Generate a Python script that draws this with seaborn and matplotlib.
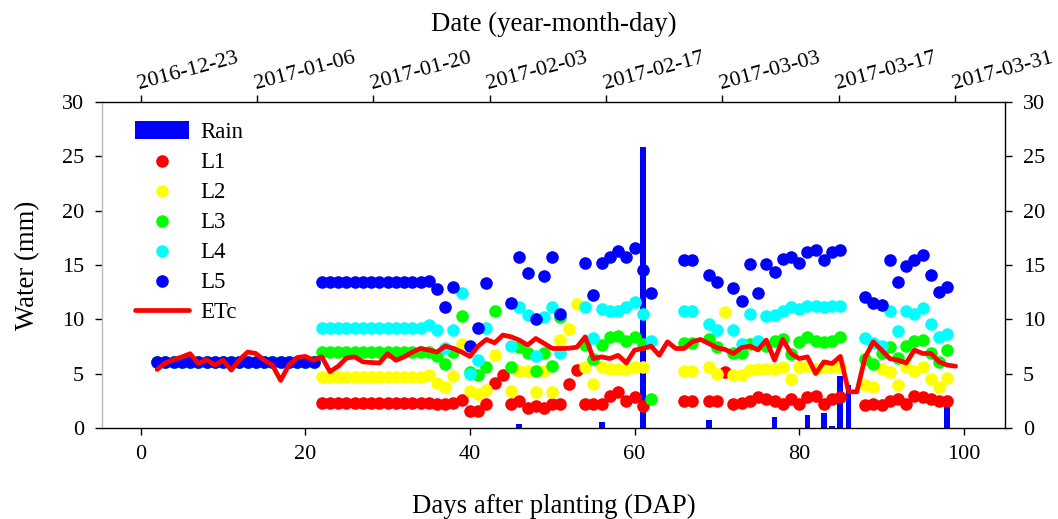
import numpy as np
import pandas as pd
import matplotlib
matplotlib.use("Agg")
import matplotlib.pyplot as plt
import seaborn as sns

nan = np.nan

# ---------------- data ----------------
days = list(range(2, 99))          # DAP for the soil layer observations
etc_days = list(range(2, 100))     # DAP for ETc

L1 = [6.1, 6.1, 6.1, 6.1, 6.1, 6.1, 6.1, 6.1, 6.1, 6.1, 6.1, 6.1, 6.1, 6.1, 6.1, 6.1, 6.1, 6.1, 6.1, 6.1,
      2.3, 2.3, 2.3, 2.3, 2.3, 2.3, 2.3, 2.3, 2.3, 2.3, 2.3, 2.3, 2.3, 2.3,
      2.2, 2.2, 2.35, 2.6, 1.6, 1.6, 2.2, 4.2, 4.85, 2.2, 2.5, 1.9, 2.05, 1.9, 2.2, 2.2, 4.05, 5.35,
      2.2, 2.2, 2.2, 2.95, 3.3, 2.5, 2.85, 2.05, nan, nan, nan, nan, 2.55, 2.55, nan, 2.55, 2.55, 5.15,
      2.2, 2.35, 2.55, 2.85, 2.7, 2.55, 2.2, 2.7, 2.2, 2.85, 3.0, 2.2, 2.7, 2.85, nan, nan,
      2.15, 2.2, 2.15, 2.55, 2.65, 2.2, 2.95, 2.85, 2.7, 2.55, 2.55]

L2 = [6.1, 6.1, 6.1, 6.1, 6.1, 6.1, 6.1, 6.1, 6.1, 6.1, 6.1, 6.1, 6.1, 6.1, 6.1, 6.1, 6.1, 6.1, 6.1, 6.1,
      4.7, 4.7, 4.7, 4.7, 4.7, 4.7, 4.7, 4.7, 4.7, 4.7, 4.7, 4.7, 4.7, 4.9,
      4.2, 3.75, 4.8, 7.7, 3.45, 3.15, 3.5, 6.75, nan, 3.45, 5.25, 5.25, 3.3, 5.25, 3.3, 8.1, 9.1, 11.45,
      5.65, 4.1, 5.6, 5.45, 5.45, 5.45, 5.65, 5.65, nan, nan, nan, nan, 5.25, 5.25, nan, 5.65, 4.95, 10.65,
      4.85, 4.85, 5.35, 5.45, 5.45, 5.45, 5.6, 4.5, 5.65, 5.75, 5.45, 5.65, 5.65, 5.65, nan, nan,
      4.0, 3.75, 5.45, 5.15, 4.0, 5.65, 5.25, 5.6, 4.5, 3.75, 4.65]

L3 = [6.1, 6.1, 6.1, 6.1, 6.1, 6.1, 6.1, 6.1, 6.1, 6.1, 6.1, 6.1, 6.1, 6.1, 6.1, 6.1, 6.1, 6.1, 6.1, 6.1,
      7.05, 7.05, 7.05, 7.05, 7.05, 7.05, 7.05, 7.05, 7.05, 7.05, 7.05, 7.05, 7.05, 7.0,
      6.65, 5.9, 7.0, 10.3, 5.15, 4.85, 5.65, 10.8, nan, 5.65, 7.5, 6.95, 5.25, 6.95, 5.75, 10.2, nan, nan,
      7.65, 6.35, 7.65, 8.35, 8.5, 8.05, 8.35, 7.75, 2.65, nan, nan, nan, 7.8, 7.8, nan, 8.2, 7.5, nan,
      6.95, 6.95, 7.75, 7.9, 7.55, 8.05, 8.2, 6.8, 7.9, 8.35, 8.05, 7.9, 8.05, 8.35, nan, nan,
      6.35, 5.9, 6.9, 7.5, 6.5, 7.6, 8.05, 8.1, 6.95, 6.05, 7.15]

L4 = [6.1, 6.1, 6.1, 6.1, 6.1, 6.1, 6.1, 6.1, 6.1, 6.1, 6.1, 6.1, 6.1, 6.1, 6.1, 6.1, 6.1, 6.1, 6.1, 6.1,
      9.25, 9.25, 9.25, 9.25, 9.25, 9.25, 9.25, 9.25, 9.25, 9.25, 9.25, 9.25, 9.25, 9.5,
      9.0, 7.4, 9.0, 12.4, 5.0, 6.3, 9.2, nan, nan, 7.6, 11.1, 10.4, 6.65, 10.2, 11.1, 6.95, nan, nan,
      11.1, 8.3, 10.95, 10.75, 10.75, 11.1, 11.6, 10.5, 8.05, nan, nan, nan, 10.8, 10.8, nan, 9.55, 9.05, nan,
      9.05, 7.75, 10.5, 8.05, 10.35, 10.45, 10.75, 11.1, 10.95, 11.25, 11.25, 11.1, 11.25, 11.25, nan, nan,
      8.3, 7.8, 7.6, 10.75, 8.95, 10.75, 10.5, 11.05, 9.55, 8.35, 8.65]

L5 = [6.1, 6.1, 6.1, 6.1, 6.1, 6.1, 6.1, 6.1, 6.1, 6.1, 6.1, 6.1, 6.1, 6.1, 6.1, 6.1, 6.1, 6.1, 6.1, 6.1,
      13.45, 13.45, 13.45, 13.45, 13.45, 13.45, 13.45, 13.45, 13.45, 13.45, 13.45, 13.45, 13.45, 13.5,
      12.8, 11.1, 13.0, nan, 7.6, 9.2, 13.35, nan, nan, 11.5, 15.7, 14.3, 10.0, 13.95, 15.7, 10.5, nan, nan,
      15.2, 12.2, 15.2, 15.7, 16.25, 15.7, 16.6, 14.5, 12.4, nan, nan, nan, 15.45, 15.45, nan, 14.1, 13.45, nan,
      12.85, 11.65, 15.1, 12.4, 15.1, 14.4, 15.55, 15.7, 15.2, 16.15, 16.35, 15.45, 16.15, 16.35, nan, nan,
      12.1, 11.55, 11.35, 15.45, 13.4, 14.95, 15.45, 15.95, 14.05, 12.5, 13.0]

ETc = [5.4, 6.0, 6.3, 6.55, 6.85, 5.95, 6.3, 5.8, 6.26, 5.34, 6.3, 7.0, 6.87, 6.26, 5.8, 4.4, 5.8, 6.5, 6.6, 6.26,
       6.56, 5.2, 5.7, 6.45, 6.56, 6.1, 6.04, 6.0, 6.85, 6.25, 6.56, 7.0, 7.33, 7.18,
       7.0, 7.55, 7.33, 7.0, 6.6, 7.55, 8.16, 7.85, 8.56, 8.4, 8.1, 7.64, 8.25, 7.8, 7.33, 7.33, 7.35, 7.45,
       8.4, 6.4, 6.56, 6.4, 6.7, 6.0, 7.18, 7.33, 7.55, 6.7, 7.94, 7.33, 7.33, 7.94, 8.16, 7.8, 7.4, 7.24,
       6.87, 7.4, 7.55, 7.2, 8.1, 6.26, 8.16, 6.87, 6.4, 6.56, 5.03, 6.1, 5.95, 6.6, 3.35, 3.35,
       6.5, 7.94, 7.18, 6.4, 6.26, 6.0, 7.18, 6.87, 6.87, 6.1, 5.8, 5.7]

rain_days = [46, 56, 61, 69, 77, 81, 83, 84, 85, 86, 98]
rain_mm = [0.4, 0.6, 25.8, 0.8, 1.0, 1.2, 1.4, 0.2, 4.8, 4.0, 2.05]

layer_names = ["L1", "L2", "L3", "L4", "L5"]
layer_colors = ["#FF0000", "#FFFF00", "#00FF00", "#00FFFF", "#0000FF"]

date_ticks = [0, 14, 28, 42, 56, 70, 84, 98]
date_labels = ["2016-12-23", "2017-01-06", "2017-01-20", "2017-02-03",
               "2017-02-17", "2017-03-03", "2017-03-17", "2017-03-31"]

# ---------------- plot ----------------
sns.set_theme(style="ticks")
plt.rcParams["font.family"] = ["Liberation Serif", "DejaVu Serif"]
plt.rcParams["text.color"] = "black"
plt.rcParams["axes.labelcolor"] = "black"
plt.rcParams["xtick.color"] = "black"
plt.rcParams["ytick.color"] = "black"

fig = plt.figure(figsize=(10.58, 5.19), dpi=100)
ax = fig.add_axes([0.0964, 0.1748, 0.8535, 0.6293])

ax.bar(rain_days, rain_mm, width=0.7, color="#0000FF", label="Rain", zorder=1, linewidth=0)

layers = [L1, L2, L3, L4, L5]
for name, vals, col in zip(layer_names, layers, layer_colors):
    d = pd.DataFrame({"DAP": days, "Water": vals}).dropna()
    sns.scatterplot(data=d, x="DAP", y="Water", color=col, s=82, linewidth=0,
                    label=name, ax=ax, zorder=2)

etc_df = pd.DataFrame({"DAP": etc_days, "ETc": ETc})
sns.lineplot(data=etc_df, x="DAP", y="ETc", color="#FF0000", linewidth=3.4,
             estimator=None, label="ETc", ax=ax, zorder=3)

ax.set_xlim(-4.7, 105.0)
ax.set_ylim(0, 30)
ax.set_xticks([0, 20, 40, 60, 80, 100])
ax.set_yticks([0, 5, 10, 15, 20, 25, 30])
ax.tick_params(axis="both", direction="out", length=5, width=1, labelsize=16,
               colors="black", labelcolor="black", pad=7)
ax.tick_params(axis="y", right=True, labelright=True, pad=8)
for s in ["top", "right", "bottom"]:
    ax.spines[s].set_visible(True)
    ax.spines[s].set_color("black")
    ax.spines[s].set_linewidth(1.0)
ax.spines["left"].set_color("#bbbbbb")
ax.spines["left"].set_linewidth(1.0)

ax.set_xlabel("Days after planting (DAP)", fontsize=19.3, color="black")
ax.set_ylabel("Water (mm)", fontsize=19.3, color="black")
ax.xaxis.set_label_coords(0.5, -0.2)
ax.yaxis.set_label_coords(-0.068, 0.5)

# top date axis
ax2 = ax.twiny()
ax2.set_xlim(-4.66, 104.0)
ax2.set_xticks(date_ticks)
ax2.set_xticklabels(date_labels, rotation=15, ha="left", rotation_mode="anchor")
ax2.tick_params(axis="x", direction="out", length=5, width=1, labelsize=16, pad=1,
                colors="black", labelcolor="black")
ax2.set_xlabel("Date (year-month-day)", fontsize=19.3, color="black")
ax2.xaxis.set_label_coords(0.5, 1.215)
for s in ax2.spines.values():
    s.set_visible(False)

# legend
handles, labels = ax.get_legend_handles_labels()
order = ["Rain", "L1", "L2", "L3", "L4", "L5", "ETc"]
hmap = dict(zip(labels, handles))
leg = ax.legend([hmap[k] for k in order], order, loc="upper left",
                bbox_to_anchor=(0.037, 0.94), frameon=False, fontsize=16.5,
                handlelength=2.35, handleheight=0.8, handletextpad=0.5,
                labelspacing=0.36, borderpad=0, borderaxespad=0)
for t in leg.get_texts():
    t.set_color("black")

fig.savefig("out.png", dpi=100)
